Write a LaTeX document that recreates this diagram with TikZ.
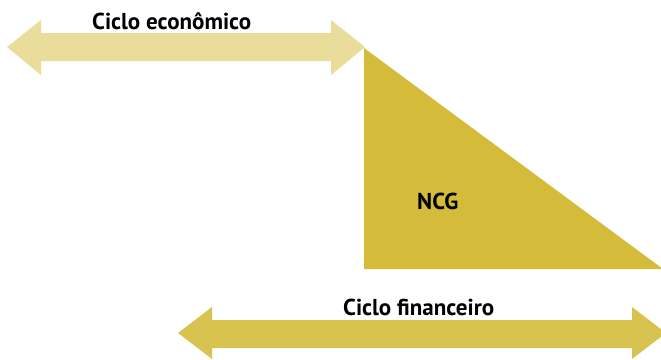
\documentclass[tikz,border=0pt]{standalone}
\usepackage{fontspec}
\setmainfont{PT Sans}
\definecolor{cicloeco}{HTML}{EADC9B}
\definecolor{ncgfill}{HTML}{D5BB3A}
\definecolor{ciclofin}{HTML}{D9C350}
\tikzset{rotulo/.style={font=\fontsize{23}{23}\selectfont\bfseries, inner sep=0pt, anchor=base west}}
\begin{document}
\begin{tikzpicture}[x=1pt,y=-1pt]
            \useasboundingbox (0,0) rectangle (661,359);
            % seta do ciclo economico
            \fill[cicloeco] (7,47) -- (41,20) -- (41,33) -- (331,33) -- (331,20) -- (365,47)
                -- (331,75) -- (331,61) -- (41,61) -- (41,75) -- cycle;
            % triangulo NCG
            \fill[ncgfill] (364,48) -- (364,269) -- (663,269) -- cycle;
            % seta do ciclo financeiro
            \fill[ciclofin] (178,333) -- (212,307) -- (212,320) -- (632,320) -- (632,307) -- (666,333)
                -- (632,359) -- (632,348) -- (212,348) -- (212,359) -- cycle;

            \node[rotulo] (eco) at (92,29) {Ciclo econômico};
            \node[rotulo] (ncg) at (417,209) {NCG};
            \node[rotulo] (fin) at (343,315) {Ciclo financeiro};
        \end{tikzpicture}
\end{document}
